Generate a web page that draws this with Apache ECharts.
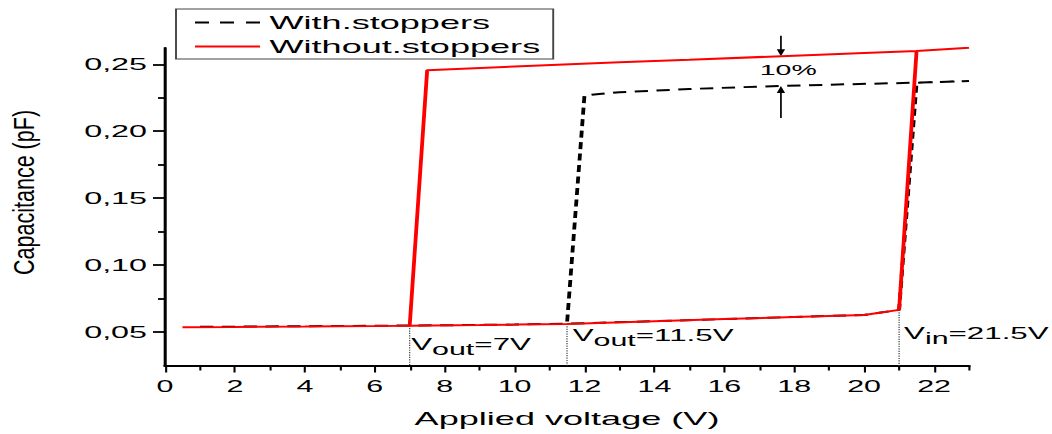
<!DOCTYPE html>
<html>
<head>
<meta charset="utf-8">
<script src="https://cdn.jsdelivr.net/npm/echarts@6/dist/echarts.min.js"></script>
<style>
  html, body { margin: 0; padding: 0; background: #fff; overflow: hidden; }
  #stage { position: relative; width: 1052px; height: 434px; overflow: hidden; background: #fff; }
  #chart { position: absolute; left: 0; top: 0; height: 434px; transform-origin: 0 0; }
</style>
</head>
<body>
<div id="stage"><div id="chart"></div></div>
<script>
// ---- Data: capacitance (pF) vs applied voltage (V), full up/down sweeps ----
// Switch with stoppers: up-sweep along the bottom, pull-in near 21.5 V, release at 11.5 V
const withVoltage = [1, 2, 4, 6, 8, 10, 11.5, 14, 16, 18, 20, 21, 21.5, 23, 21.5, 19, 17, 15, 13, 12, 11.5];
const withCap     = [0.0537, 0.0538, 0.0541, 0.0544, 0.0548, 0.0553, 0.0560, 0.0578, 0.0594, 0.0610, 0.0625, 0.0663,
                     0.2363, 0.2375, 0.2363, 0.2348, 0.2334, 0.2316, 0.2292, 0.2268, 0.0560];

// Switch without stoppers: pull-in near 21.5 V, release at 7 V
const withoutVoltage = [0.5, 2, 4, 6, 7, 9, 10, 11.5, 14, 16, 18, 20, 21, 21.5, 23, 21.5, 20, 18, 15, 13, 10, 7.5, 7];
const withoutCap     = [0.0533, 0.0535, 0.0538, 0.0542, 0.0545, 0.0550, 0.0553, 0.0558, 0.0578, 0.0594, 0.0610, 0.0625, 0.0663,
                        0.2600, 0.2625, 0.2600, 0.2585, 0.2565, 0.2535, 0.2517, 0.2484, 0.2457, 0.0545];

const seriesNames = ['With.stoppers', 'Without.stoppers'];

// Axis ticks
const xMajorTicks = [0, 2, 4, 6, 8, 10, 12, 14, 16, 18, 20, 22];
const xMinorTicks = [1, 3, 5, 7, 9, 11, 13, 15, 17, 19, 21, 23];
const yMajorTicks = [0.05, 0.10, 0.15, 0.20, 0.25];
const yMinorTicks = [0.075, 0.125, 0.175, 0.225];

// Threshold voltages marked under the curves
const thresholdVolts  = [7, 11.5, 21];
const thresholdCaps   = [0.0545, 0.0558, 0.0663];
const thresholdSubs   = ['out', 'out', 'in'];
const thresholdTexts  = ['=7V', '=11.5V', '=21.5V'];

// Capacitance gap between the two upper branches
const gapVolt = 17.62;
const gapUpper = 0.2561;   // without stoppers
const gapLower = 0.2338;   // with stoppers
const gapLabel = '10%';

const X_MIN = 0, X_MAX = 23;
const Y_MIN = 0.0243, Y_MAX = 0.2625;

// ---- Layout: the chart is drawn narrow and widened horizontally ----
const BASE_W = 554;
const STRETCH = 1052 / BASE_W;
const hx = v => v / STRETCH;   // horizontal page distance -> chart units
const FONT = '"Liberation Sans", Arial, Helvetica, sans-serif';

const el = document.getElementById('chart');
el.style.width = BASE_W + 'px';
el.style.transform = 'scaleX(' + STRETCH + ')';

const chart = echarts.init(el, null, { renderer: 'svg', width: BASE_W, height: 434 });

const pairs = (xs, ys) => xs.map((x, i) => [x, ys[i]]);
const fmtY = v => v.toFixed(2).replace('.', ',');

// legend keys: three short dashes, and a solid bar
const dashedKey = 'path://M0,0H14V2H0Z M25,0H39V2H25Z M51,0H65V2H51Z';
const solidKey = 'rect';

const option = {
  animation: false,
  backgroundColor: '#fff',
  grid: { left: hx(165), right: hx(83), top: 47.7, bottom: 68, containLabel: false },
  legend: {
    orient: 'vertical',
    left: hx(176),
    top: 9,
    padding: [4, hx(13), 3, hx(19)],
    itemGap: 5,
    itemWidth: hx(65),
    itemHeight: 2,
    symbolKeepAspect: false,
    borderColor: '#444',
    borderWidth: 1,
    backgroundColor: '#fff',
    data: [
      { name: seriesNames[0], icon: dashedKey, itemStyle: { color: '#000', borderWidth: 0 } },
      { name: seriesNames[1], icon: solidKey, itemStyle: { color: '#ff0000', borderWidth: 0 } }
    ],
    textStyle: { fontFamily: FONT, fontSize: 19, color: '#000' }
  },
  xAxis: [
    {
      type: 'value', min: X_MIN, max: X_MAX, position: 'bottom',
      name: 'Applied voltage (V)', nameLocation: 'middle', nameGap: 43,
      nameTextStyle: { fontFamily: FONT, fontSize: 19, color: '#000' },
      axisLine: { onZero: false, lineStyle: { color: '#000', width: 2 } },
      axisTick: { customValues: xMajorTicks, length: 6.5, lineStyle: { color: '#000', width: 1.1 } },
      axisLabel: { customValues: xMajorTicks, margin: 12, fontFamily: FONT, fontSize: 16, color: '#000' },
      splitLine: { show: false }
    },
    {
      type: 'value', min: X_MIN, max: X_MAX, position: 'bottom',
      axisLine: { show: false, onZero: false },
      axisTick: { customValues: xMinorTicks, length: 4.5, lineStyle: { color: '#000', width: 1.1 } },
      axisLabel: { show: false },
      splitLine: { show: false }
    }
  ],
  yAxis: [
    {
      type: 'value', min: Y_MIN, max: Y_MAX, position: 'left',
      axisLine: { onZero: false, lineStyle: { color: '#000', width: 1.6 } },
      axisTick: { customValues: yMajorTicks, length: hx(12), lineStyle: { color: '#000', width: 1.8 } },
      axisLabel: { customValues: yMajorTicks, formatter: fmtY, margin: hx(18), fontFamily: FONT, fontSize: 17, color: '#000' },
      splitLine: { show: false }
    },
    {
      type: 'value', min: Y_MIN, max: Y_MAX, position: 'left', offset: 0,
      axisLine: { show: false, onZero: false },
      axisTick: { customValues: yMinorTicks, length: hx(7), lineStyle: { color: '#000', width: 1.8 } },
      axisLabel: { show: false },
      splitLine: { show: false }
    }
  ],
  series: [
    {
      name: seriesNames[0], type: 'line', xAxisIndex: 0, yAxisIndex: 0,
      data: pairs(withVoltage, withCap),
      symbol: 'none', showSymbol: false, z: 2,
      lineStyle: { color: '#000', width: 2, type: [7, 4.5] },
      itemStyle: { color: '#000' }
    },
    {
      name: seriesNames[1], type: 'line', xAxisIndex: 0, yAxisIndex: 0,
      data: pairs(withoutVoltage, withoutCap),
      symbol: 'none', showSymbol: false, z: 3,
      lineStyle: { color: '#ff0000', width: 2 },
      itemStyle: { color: '#ff0000' }
    }
  ]
};

chart.setOption(option);

// ---- Annotations placed through the axes' own scales ----
const labelPlacement = [
  { dx: 0.8, capTop: 0.0455 },
  { dx: 3.0, capTop: 0.0520 },
  { dx: 2.6, capTop: 0.0535 }
];

function buildAnnotations() {
  const toPx = (x, y) => chart.convertToPixel({ xAxisIndex: 0, yAxisIndex: 0 }, [x, y]);
  const items = [];

  // y-axis title, condensed along its reading direction
  items.push({
    type: 'text', x: hx(24), y: 192.5, rotation: Math.PI / 2, scaleX: 1.39, scaleY: 1,
    silent: true,
    style: { text: 'Capacitance (pF)', fontFamily: FONT, fontSize: 15.5, fill: '#000', align: 'center', verticalAlign: 'middle' }
  });

  thresholdVolts.forEach((v, i) => {
    const a = toPx(v, thresholdCaps[i]);
    const b = toPx(v, Y_MIN);
    items.push({
      type: 'line', silent: true, z: 1,
      shape: { x1: a[0], y1: a[1], x2: b[0], y2: b[1] },
      style: { stroke: '#333', lineWidth: 0.6, lineDash: [1.2, 1.2] }
    });
    const p = labelPlacement[i];
    const at = toPx(v, p.capTop);
    items.push({
      type: 'text', silent: true, z: 5,
      x: at[0] + p.dx, y: at[1] - 2,
      style: {
        text: '{m|V}{s|' + thresholdSubs[i] + '}{m|' + thresholdTexts[i] + '}',
        align: 'left', verticalAlign: 'top', fill: '#000',
        rich: {
          m: { fontFamily: FONT, fontSize: 16.5, lineHeight: 17, fill: '#000' },
          s: { fontFamily: FONT, fontSize: 16, lineHeight: 16, padding: [10, 0, 0, 0], fill: '#000' }
        }
      }
    });
  });

  // double arrow showing the gap between upper branches
  const headW = 2.2, headL = 7;
  const up = toPx(gapVolt, gapUpper);
  const lo = toPx(gapVolt, gapLower);
  const arrowStyle = { stroke: '#000', lineWidth: 0.9 };
  items.push({ type: 'line', silent: true, shape: { x1: up[0], y1: up[1] - 20.5, x2: up[0], y2: up[1] - headL + 1 }, style: arrowStyle });
  items.push({ type: 'polygon', silent: true, shape: { points: [[up[0], up[1]], [up[0] - headW, up[1] - headL], [up[0] + headW, up[1] - headL]] }, style: { fill: '#000' } });
  items.push({ type: 'line', silent: true, shape: { x1: lo[0], y1: lo[1] + 32, x2: lo[0], y2: lo[1] + headL - 1 }, style: arrowStyle });
  items.push({ type: 'polygon', silent: true, shape: { points: [[lo[0], lo[1]], [lo[0] - headW, lo[1] + headL], [lo[0] + headW, lo[1] + headL]] }, style: { fill: '#000' } });

  const lbl = toPx(gapVolt + 0.21, (gapUpper + gapLower) / 2 + 0.0013);
  items.push({
    type: 'text', silent: true, x: lbl[0], y: lbl[1],
    style: { text: gapLabel, fontFamily: FONT, fontSize: 15, fill: '#000', align: 'center', verticalAlign: 'middle' }
  });

  return items;
}

chart.setOption({ graphic: buildAnnotations() });
</script>
</body>
</html>
